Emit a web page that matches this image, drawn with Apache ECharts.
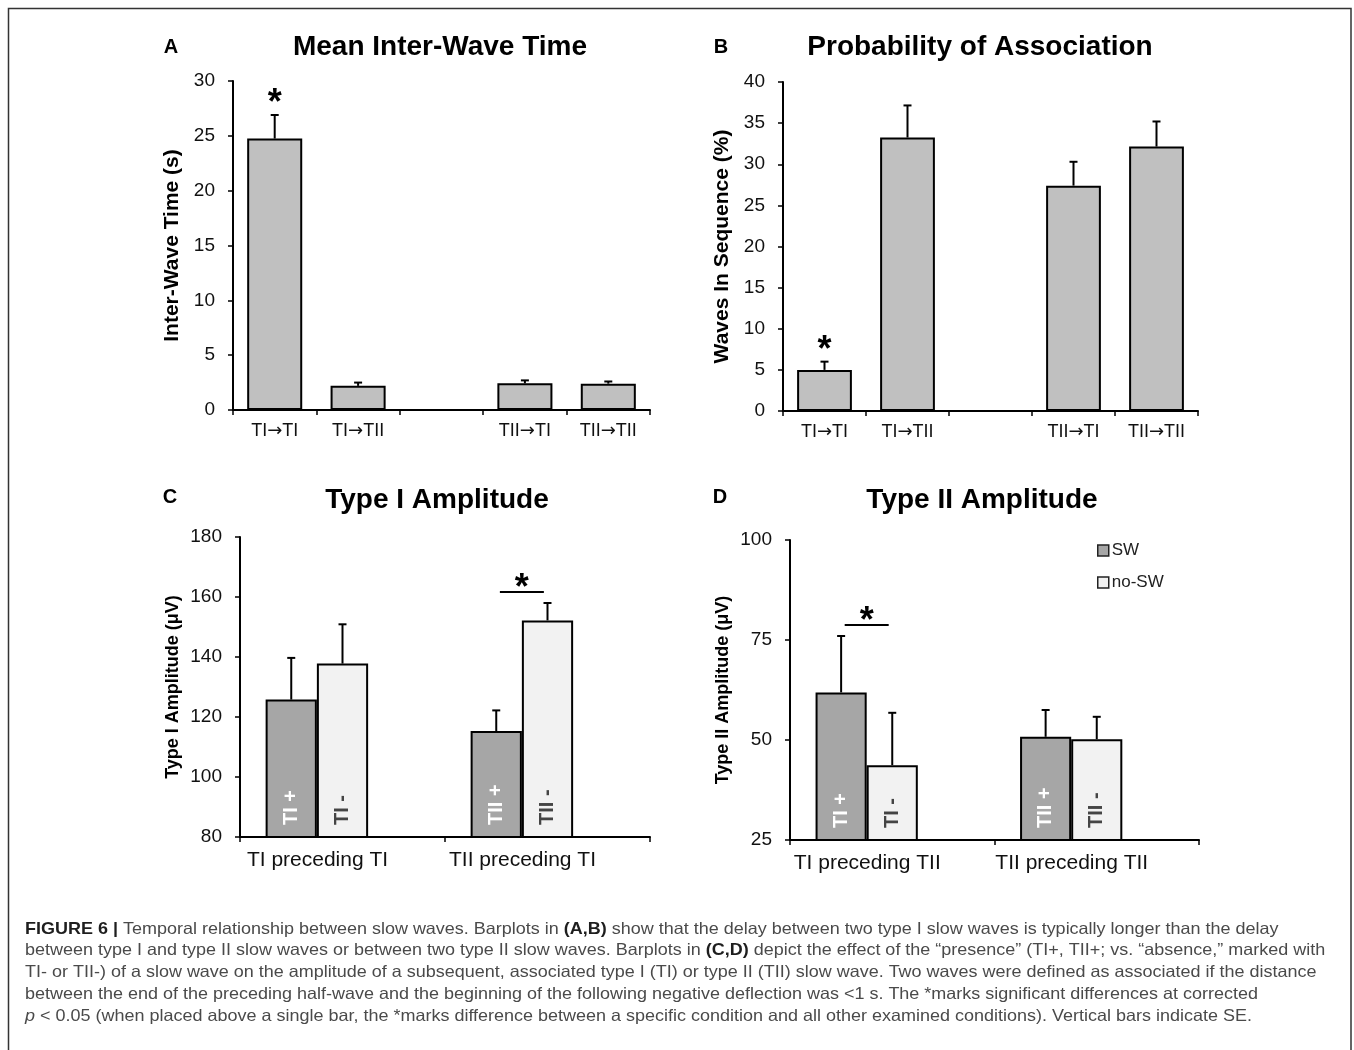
<!DOCTYPE html>
<html>
<head>
<meta charset="utf-8">
<title>Figure 6</title>
<script src="https://cdn.jsdelivr.net/npm/echarts@6.0.0/dist/echarts.min.js"></script>
<style>
  html, body { margin: 0; padding: 0; background: #fff; }
  #main { width: 1354px; height: 1050px; }
</style>
</head>
<body>
<div id="main"></div>
<script>
const FONT = "'Liberation Sans', Arial, sans-serif";

// panels A and B: sequence categories (third slot is an empty gap)
const seqCats = ['TI→TI', 'TI→TII', '', 'TII→TI', 'TII→TII'];
const interWave = [24.75, 2.2, null, 2.43, 2.4];
const interWaveSE = [2.15, 0.3, null, 0.27, 0.2];
const assocProb = [5.0, 33.25, null, 27.4, 32.15];
const assocProbSE = [1.0, 3.9, null, 2.9, 3.05];
const starsA = [0];
const starsB = [0];

// panels C and D: amplitude with / without preceding slow wave
const ampCatsC = ['TI preceding TI', 'TII preceding TI'];
const ampCatsD = ['TI preceding TII', 'TII preceding TII'];
const typeIAmpSW = [125.8, 115.3];
const typeIAmpSWSE = [13.9, 6.9];
const typeIAmpNoSW = [137.8, 152.2];
const typeIAmpNoSWSE = [13.1, 5.8];
const typeIIAmpSW = [61.9, 50.8];
const typeIIAmpSWSE = [14.1, 6.7];
const typeIIAmpNoSW = [43.7, 50.2];
const typeIIAmpNoSWSE = [13.1, 5.6];
const tagsSW_C = ['TI +', 'TII +'];
const tagsNo_C = ['TI -', 'TII -'];
const tagsSW_D = ['TI +', 'TII +'];
const tagsNo_D = ['TI -', 'TII -'];
const sigC = [1];
const sigD = [0];

const captionLines = [
    '{b|FIGURE 6 |} Temporal relationship between slow waves. Barplots in {b|(A,B)} show that the delay between two type I slow waves is typically longer than the delay',
    'between type I and type II slow waves or between two type II slow waves. Barplots in {b|(C,D)} depict the effect of the \u201cpresence\u201d (TI+, TII+; vs. \u201cabsence,\u201d marked with',
    'TI- or TII-) of a slow wave on the amplitude of a subsequent, associated type I (TI) or type II (TII) slow wave. Two waves were defined as associated if the distance',
    'between the end of the preceding half-wave and the beginning of the following negative deflection was <1 s. The *marks significant differences at corrected',
    '{i|p} < 0.05 (when placed above a single bar, the *marks difference between a specific condition and all other examined conditions). Vertical bars indicate SE.'
];

const AB_BAR = '66%';
const CD_BAR = '25%';
const SW_COLOR = '#a6a6a6';
const NOSW_COLOR = '#f2f2f2';

function catAxis(grid, data, fontSize, margin, padding) {
    return {
        type: 'category',
        gridIndex: grid,
        data: data,
        axisLine: { show: true, lineStyle: { color: '#000', width: 2 } },
        axisTick: { show: true, interval: 0, length: 5, lineStyle: { color: '#000', width: 1.5 } },
        axisLabel: {
            interval: 0, fontSize: fontSize, color: '#111', fontFamily: FONT,
            margin: margin, padding: padding || 0,
            // the arrow glyph is taken from a font with a larger arrow
            formatter: v => v.replace('→', '{a|→}'),
            rich: { a: { fontFamily: "'DejaVu Sans'", fontSize: fontSize, color: '#111' } }
        },
        splitLine: { show: false }
    };
}

function valAxis(grid, min, max, interval, name, nameSize, nameGap) {
    return {
        type: 'value',
        gridIndex: grid,
        min: min, max: max, interval: interval,
        name: name,
        nameLocation: 'middle',
        nameGap: nameGap,
        nameTextStyle: { fontSize: nameSize, fontWeight: 'bold', color: '#000', fontFamily: FONT },
        axisLine: { show: true, lineStyle: { color: '#000', width: 2 } },
        axisTick: { show: true, length: 5, lineStyle: { color: '#000', width: 1.5 } },
        axisLabel: { fontSize: 19, color: '#111', fontFamily: FONT, margin: 18 },
        splitLine: { show: false }
    };
}

function starText(x, y) {
    return {
        type: 'text', x: x, y: y + 8,
        style: {
            text: '*', fontSize: 36, fontWeight: 'bold', fontFamily: FONT, fill: '#000',
            align: 'center', verticalAlign: 'middle'
        }
    };
}

// upper-only error bars, optional star above the bar
function errorSeries(idx, means, ses, barFrac, offset, stars) {
    const data = [];
    means.forEach((m, i) => {
        if (m != null) data.push([i, m, ses[i]]);
    });
    return {
        type: 'custom',
        xAxisIndex: idx, yAxisIndex: idx,
        z: 5,
        silent: true,
        data: data,
        encode: { x: 0, y: 1 },
        renderItem: function (params, api) {
            const i = api.value(0), m = api.value(1), s = api.value(2);
            const bw = api.size([1, 0])[0] * barFrac;
            const base = api.coord([i, m]);
            const top = api.coord([i, m + s]);
            const x = base[0] + offset * bw;
            const children = [
                { type: 'line', shape: { x1: x, y1: base[1], x2: x, y2: top[1] }, style: { stroke: '#000', lineWidth: 2 } },
                { type: 'line', shape: { x1: x - 4, y1: top[1], x2: x + 4, y2: top[1] }, style: { stroke: '#000', lineWidth: 2 } }
            ];
            if (stars && stars.indexOf(i) >= 0) children.push(starText(x, top[1] - 19));
            return { type: 'group', children: children };
        }
    };
}

// significance bracket between the two bars of a group
function sigSeries(idx, groups, sw, swSE, no, noSE) {
    const data = groups.map(g => [g, Math.max(sw[g] + swSE[g], no[g] + noSE[g])]);
    return {
        type: 'custom',
        xAxisIndex: idx, yAxisIndex: idx,
        z: 5,
        silent: true,
        data: data,
        encode: { x: 0, y: 1 },
        renderItem: function (params, api) {
            const p = api.coord([api.value(0), api.value(1)]);
            const bw = api.size([1, 0])[0] * 0.25;
            const cx = p[0] - bw / 2;
            const y = p[1] - 11;
            return {
                type: 'group',
                children: [
                    { type: 'line', shape: { x1: cx - 22, y1: y, x2: cx + 22, y2: y }, style: { stroke: '#000', lineWidth: 2 } },
                    starText(cx, y - 11)
                ]
            };
        }
    };
}

function simpleBar(idx, values) {
    return {
        type: 'bar',
        xAxisIndex: idx, yAxisIndex: idx,
        barWidth: AB_BAR,
        data: values.map(v => v == null ? '-' : v),
        itemStyle: { color: '#c0c0c0', borderColor: '#000', borderWidth: 2 }
    };
}

function groupBar(idx, name, values, color, tags, tagColor) {
    return {
        type: 'bar',
        name: name,
        xAxisIndex: idx, yAxisIndex: idx,
        barWidth: CD_BAR,
        barGap: '0%',
        data: values,
        itemStyle: { color: color, borderColor: '#000', borderWidth: 2 },
        label: {
            show: true, position: 'insideBottom', rotate: 90, distance: 13,
            align: 'left', verticalAlign: 'middle',
            formatter: p => tags[p.dataIndex],
            color: tagColor, fontSize: 20, fontWeight: 'bold', fontFamily: FONT
        }
    };
}

// empty third slot, keeps the bar pair left of the category centre
function padBar(idx) {
    return {
        type: 'bar', name: 'pad',
        xAxisIndex: idx, yAxisIndex: idx,
        barWidth: CD_BAR, barGap: '0%',
        data: ['-', '-']
    };
}

function label(text, x, y, size) {
    return {
        type: 'text', x: x, y: y, silent: true,
        style: {
            text: text, fontSize: size, fontWeight: 'bold', fontFamily: FONT, fill: '#000',
            align: 'center', verticalAlign: 'middle'
        }
    };
}

// caption font in the figure is wider than Liberation Sans, so stretch it a little
const captionGraphics = captionLines.map((line, i) => ({
    type: 'text', x: 25, y: 929 + i * 21.75, scaleX: 1.09, silent: true,
    style: {
        text: line, fontSize: 16.5, fontFamily: FONT, fill: '#4a4a4a',
        align: 'left', verticalAlign: 'middle',
        rich: {
            b: { fontSize: 16.5, fontFamily: FONT, fontWeight: 'bold', fill: '#1e1e1e' },
            i: { fontSize: 16.5, fontFamily: FONT, fontStyle: 'italic', fill: '#4a4a4a' }
        }
    }
}));

const chart = echarts.init(document.getElementById('main'), null, { renderer: 'canvas' });

const option = {
    backgroundColor: '#fff',
    animation: false,
    grid: [
        { left: 233, top: 81, width: 417, height: 329, outerBoundsMode: 'none' },
        { left: 783, top: 82, width: 415, height: 329, outerBoundsMode: 'none' },
        { left: 240, top: 537, width: 410, height: 300, outerBoundsMode: 'none' },
        { left: 790, top: 540, width: 409, height: 300, outerBoundsMode: 'none' }
    ],
    xAxis: [
        catAxis(0, seqCats, 18, 12),
        catAxis(1, seqCats, 18, 12),
        catAxis(2, ampCatsC, 21, 13, [0, 50, 0, 0]),
        catAxis(3, ampCatsD, 21, 13, [0, 50, 0, 0])
    ],
    yAxis: [
        valAxis(0, 0, 30, 5, 'Inter-Wave Time (s)', 21, 50),
        valAxis(1, 0, 40, 5, 'Waves In Sequence (%)', 21, 50),
        valAxis(2, 80, 180, 20, 'Type I Amplitude (\u03bcV)', 18, 58),
        valAxis(3, 25, 100, 25, 'Type II Amplitude (\u03bcV)', 18, 58)
    ],
    legend: {
        data: ['SW', 'no-SW'],
        orient: 'vertical',
        left: 1097, top: 542,
        padding: 0,
        itemWidth: 11, itemHeight: 11, itemGap: 15,
        icon: 'rect',
        selectedMode: false,
        itemStyle: { borderWidth: 1.5, borderColor: '#222' },
        textStyle: { fontSize: 17, color: '#222', fontFamily: FONT, padding: [0, 0, 0, -2] }
    },
    series: [
        simpleBar(0, interWave),
        errorSeries(0, interWave, interWaveSE, 0.66, 0, starsA),
        simpleBar(1, assocProb),
        errorSeries(1, assocProb, assocProbSE, 0.66, 0, starsB),

        groupBar(2, 'SW', typeIAmpSW, SW_COLOR, tagsSW_C, '#fff'),
        groupBar(2, 'no-SW', typeIAmpNoSW, NOSW_COLOR, tagsNo_C, '#444'),
        padBar(2),
        errorSeries(2, typeIAmpSW, typeIAmpSWSE, 0.25, -1),
        errorSeries(2, typeIAmpNoSW, typeIAmpNoSWSE, 0.25, 0),
        sigSeries(2, sigC, typeIAmpSW, typeIAmpSWSE, typeIAmpNoSW, typeIAmpNoSWSE),

        groupBar(3, 'SW', typeIIAmpSW, SW_COLOR, tagsSW_D, '#fff'),
        groupBar(3, 'no-SW', typeIIAmpNoSW, NOSW_COLOR, tagsNo_D, '#444'),
        padBar(3),
        errorSeries(3, typeIIAmpSW, typeIIAmpSWSE, 0.25, -1),
        errorSeries(3, typeIIAmpNoSW, typeIIAmpNoSWSE, 0.25, 0),
        sigSeries(3, sigD, typeIIAmpSW, typeIIAmpSWSE, typeIIAmpNoSW, typeIIAmpNoSWSE)
    ],
    graphic: [
        {
            type: 'rect', silent: true,
            shape: { x: 8.5, y: 8.5, width: 1342.5, height: 1100 },
            style: { fill: 'none', stroke: '#333', lineWidth: 1.5 }
        },
        label('A', 171, 47, 20),
        label('Mean Inter-Wave Time', 440, 47.5, 28),
        label('B', 721, 47, 20),
        label('Probability of Association', 980, 47, 28),
        label('C', 170, 497, 20),
        label('Type I Amplitude', 437, 500, 28),
        label('D', 720, 497, 20),
        label('Type II Amplitude', 982, 500, 28)
    ].concat(captionGraphics)
};

chart.setOption(option);
</script>
</body>
</html>
